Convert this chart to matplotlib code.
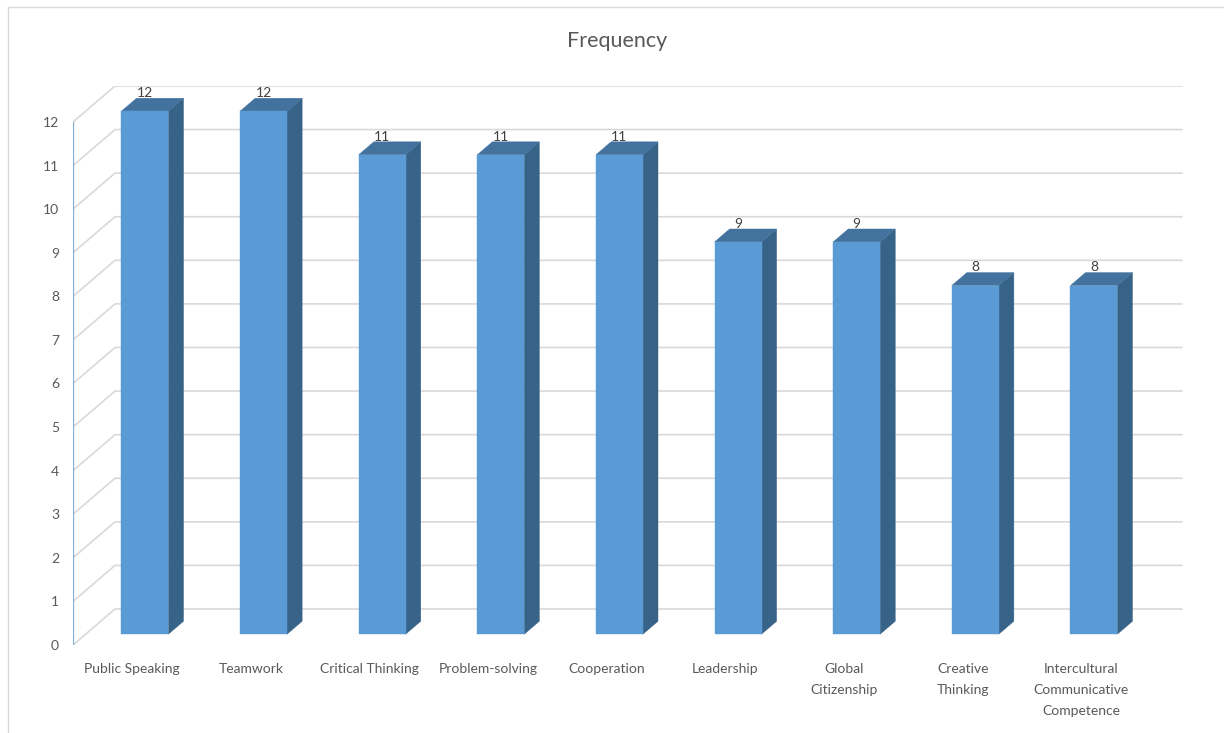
import numpy as np
import matplotlib
matplotlib.use("Agg")
import matplotlib.pyplot as plt
from matplotlib.patches import Polygon

plt.rcParams['font.family'] = ['Lato', 'DejaVu Sans']

# Data
categories = ["Public Speaking", "Teamwork", "Critical Thinking", "Problem-solving",
              "Cooperation", "Leadership", "Global\nCitizenship", "Creative\nThinking",
              "Intercultural\nCommunicative\nCompetence"]
frequency = [12, 12, 11, 11, 11, 9, 9, 8, 8]
y_ticks = list(range(0, 13))

# Figure geometry (pixels)
W, H = 1224, 733
fig = plt.figure(figsize=(W / 100, H / 100), dpi=100)

front_left, front_right = 73, 1140.6     # front plane x extent
front_y0, front_ytop = 645, 122          # pixel rows of value 0 and value 12 (from top)
DEPTH_PX = (42, 36)                      # oblique depth offset of the back wall

n = len(categories)
ymax = max(y_ticks)
unit_x = (front_right - front_left) / n
unit_y = (front_y0 - front_ytop) / ymax
KX = DEPTH_PX[0] / unit_x
KY = DEPTH_PX[1] / unit_y

ax = fig.add_axes([front_left / W,
                   (H - front_y0) / H,
                   (front_right - front_left + DEPTH_PX[0]) / W,
                   (front_y0 - front_ytop + DEPTH_PX[1]) / H])
ax.set_xlim(-0.5, n - 0.5 + KX)
ax.set_ylim(0, ymax + KY)
for s in ax.spines.values():
    s.set_visible(False)


def proj(x, y, d):
    """Oblique projection of (category x, value y, depth d in 0..1) to data coords."""
    return (x + d * KX, y + d * KY)


grid_c = '#D9D9D9'
# side wall and back wall gridlines
for v in y_ticks:
    p0 = proj(-0.5, v, 0)
    p1 = proj(-0.5, v, 1)
    p2 = proj(n - 0.5, v, 1)
    ax.plot([p0[0], p1[0], p2[0]], [p0[1], p1[1], p2[1]], color=grid_c, lw=1.2,
            zorder=1, solid_capstyle='butt')

# front value axis line
ax.plot([-0.5, -0.5], [0, ymax], color='#7FB0DE', lw=0.9, zorder=2)

# 3D bars
half_w = 0.198
d0, d1 = 0.30, 0.66
front_c, top_c, side_c = '#5B9BD5', '#44729F', '#386389'
for i, v in enumerate(frequency):
    xl, xr = i - half_w, i + half_w
    front = [proj(xl, 0, d0), proj(xr, 0, d0), proj(xr, v, d0), proj(xl, v, d0)]
    top = [proj(xl, v, d0), proj(xr, v, d0), proj(xr, v, d1), proj(xl, v, d1)]
    side = [proj(xr, 0, d0), proj(xr, 0, d1), proj(xr, v, d1), proj(xr, v, d0)]
    ax.add_patch(Polygon(side, closed=True, facecolor=side_c, edgecolor=side_c, lw=0.3, zorder=3))
    ax.add_patch(Polygon(top, closed=True, facecolor=top_c, edgecolor=top_c, lw=0.3, zorder=3))
    ax.add_patch(Polygon(front, closed=True, facecolor=front_c, edgecolor=front_c, lw=0.3, zorder=4))
    lx, ly = proj(i, v, d0)
    ax.annotate(str(v), (lx, ly), xytext=(0, 13), textcoords='offset points',
                ha='center', va='center', fontsize=10, color='#404040', zorder=5,
                annotation_clip=False)

# axes ticks and labels
ax.set_yticks(y_ticks)
ax.set_yticklabels([str(t) for t in y_ticks], fontsize=10, color='#595959')
ax.tick_params(axis='y', length=0, pad=10)
ax.set_xticks(range(n))
ax.set_xticklabels(categories, fontsize=10, color='#595959', linespacing=1.9)
ax.tick_params(axis='x', length=0, pad=13)

fig.text(617 / W, 1 - 41 / H, "Frequency", ha='center', va='center',
         fontsize=15.5, color='#595959')

# chart area border
fig.add_artist(plt.Line2D([8 / W, 8 / W], [0, 1 - 7 / H], color='#D9D9D9', lw=1.0,
                          transform=fig.transFigure))
fig.add_artist(plt.Line2D([8 / W, 1], [1 - 7 / H, 1 - 7 / H], color='#D9D9D9', lw=1.0,
                          transform=fig.transFigure))

fig.savefig("out.png", dpi=100, facecolor='white')
